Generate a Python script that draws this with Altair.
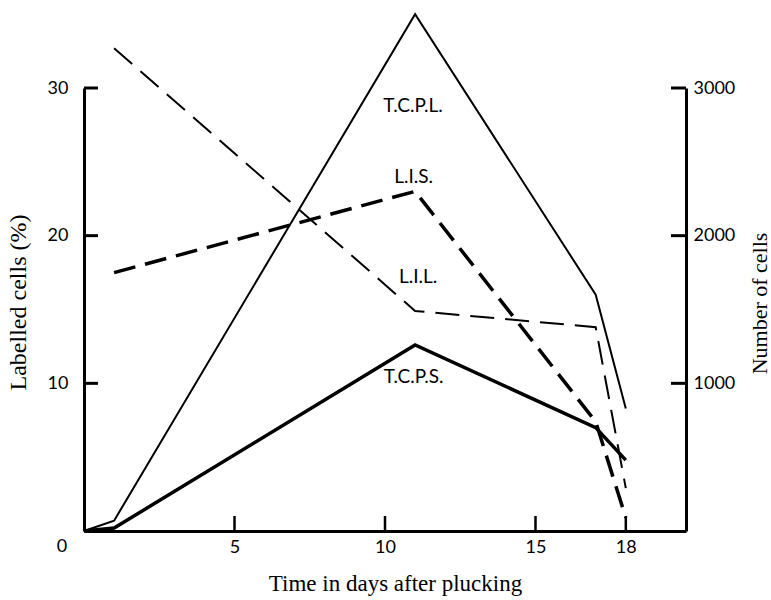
import altair as alt
import pandas as pd

# ---- data ----
days_tcpl = [0, 1, 11, 17, 18]
cells_tcpl = [0, 70, 3500, 1600, 830]

days_tcps = [0, 1, 11, 17, 18]
cells_tcps = [0, 20, 1260, 700, 480]

days_lis = [1, 11, 17, 18]
pct_lis = [17.5, 23.0, 7.4, 0.9]

days_lil = [1, 11, 17, 18]
pct_lil = [32.7, 14.9, 13.8, 2.9]

x_ticks = [5, 10, 15, 18]
pct_ticks = [10, 20, 30]
cell_ticks = [1000, 2000, 3000]

label_text = ["T.C.P.L.", "L.I.S.", "L.I.L.", "T.C.P.S."]
label_day = [10.93, 10.95, 11.1, 10.95]
label_pct = [28.8, 24.0, 17.2, 10.4]

W, H = 602, 443
SANS = "Lato"
SERIF = "Liberation Serif"

xs = alt.Scale(domain=[0, 20], nice=False, zero=False)
ps = alt.Scale(domain=[0, 30], nice=False)
cs = alt.Scale(domain=[0, 3000], nice=False)

x_axis = alt.Axis(values=x_ticks, ticks=False, labelPadding=7, domainWidth=3,
                  title="Time in days after plucking", titleX=311, titleY=52,
                  titleBaseline="middle", titleAlign="center")

def X():
    return alt.X("day:Q", scale=xs, axis=x_axis)

df_tcpl = pd.DataFrame({"day": days_tcpl, "v": cells_tcpl})
df_tcps = pd.DataFrame({"day": days_tcps, "v": cells_tcps})
df_lis = pd.DataFrame({"day": days_lis, "v": pct_lis})
df_lil = pd.DataFrame({"day": days_lil, "v": pct_lil})

left_axis = alt.Axis(values=pct_ticks, ticks=False, labelPadding=16, domainWidth=3,
                     title="Labelled cells (%)", titleX=-66, titleY=214, titleAngle=270,
                     titleBaseline="middle", titleAlign="center", titleFontSize=24)
right_axis = alt.Axis(orient="right", values=cell_ticks, format="d", ticks=False,
                      labelPadding=7, domainWidth=3, title="Number of cells",
                      titleX=73, titleY=215, titleAngle=270, titleBaseline="middle",
                      titleAlign="center", titleFontSize=22)

lis = alt.Chart(df_lis).mark_line(color="black", strokeWidth=3.5, strokeDash=[22, 10],
                                  strokeCap="butt", strokeJoin="miter").encode(
    x=X(), y=alt.Y("v:Q", scale=ps, axis=left_axis))

tcpl = alt.Chart(df_tcpl).mark_line(color="black", strokeWidth=2,
                                    strokeJoin="miter").encode(
    x=X(), y=alt.Y("v:Q", scale=cs, axis=right_axis))

lil = alt.Chart(df_lil).mark_line(color="black", strokeWidth=2, strokeDash=[24, 11],
                                  strokeCap="butt", strokeJoin="miter").encode(
    x=X(), y=alt.Y("v:Q", scale=ps, axis=None))

tcps = alt.Chart(df_tcps).mark_line(color="black", strokeWidth=3.5,
                                    strokeJoin="miter").encode(
    x=X(), y=alt.Y("v:Q", scale=cs, axis=None))

# inward tick marks
bt = alt.Chart(pd.DataFrame({"day": x_ticks})).mark_rule(color="black", strokeWidth=2.5).encode(
    x=X(), y=alt.value(H), y2=alt.value(H - 15))
lt = alt.Chart(pd.DataFrame({"v": pct_ticks})).mark_rule(color="black", strokeWidth=3).encode(
    y=alt.Y("v:Q", scale=ps, axis=None), x=alt.value(0), x2=alt.value(14))
rt = alt.Chart(pd.DataFrame({"v": cell_ticks})).mark_rule(color="black", strokeWidth=3).encode(
    y=alt.Y("v:Q", scale=cs, axis=None), x=alt.value(W - 15), x2=alt.value(W))

labels = alt.Chart(pd.DataFrame({"day": label_day, "v": label_pct, "t": label_text})).mark_text(
    font=SANS, fontSize=19, color="black", align="center", baseline="middle").encode(
    x=X(), y=alt.Y("v:Q", scale=ps, axis=None), text="t:N")

origin = alt.Chart(pd.DataFrame({"day": [0], "v": [0], "t": ["0"]})).mark_text(
    font=SANS, fontSize=18, color="black", align="center", baseline="middle", dx=-22, dy=16).encode(
    x=X(), y=alt.Y("v:Q", scale=ps, axis=None), text="t:N")

chart = alt.layer(lis, tcpl, lil, tcps, bt, lt, rt, labels, origin).resolve_scale(
    y="independent").properties(
    width=W, height=H,
    padding={"left": 84, "top": 88, "right": 85, "bottom": 69},
    autosize=alt.AutoSizeParams(type="none"),
    background="white",
).configure_view(stroke=None).configure_axis(
    domainColor="black", labelFont=SANS, labelFontSize=18, labelColor="black",
    titleFont=SERIF, titleFontSize=23, titleFontWeight="normal", titleColor="black",
    grid=False)

chart.save("out.html", embed_options={"renderer": "svg", "actions": False})
